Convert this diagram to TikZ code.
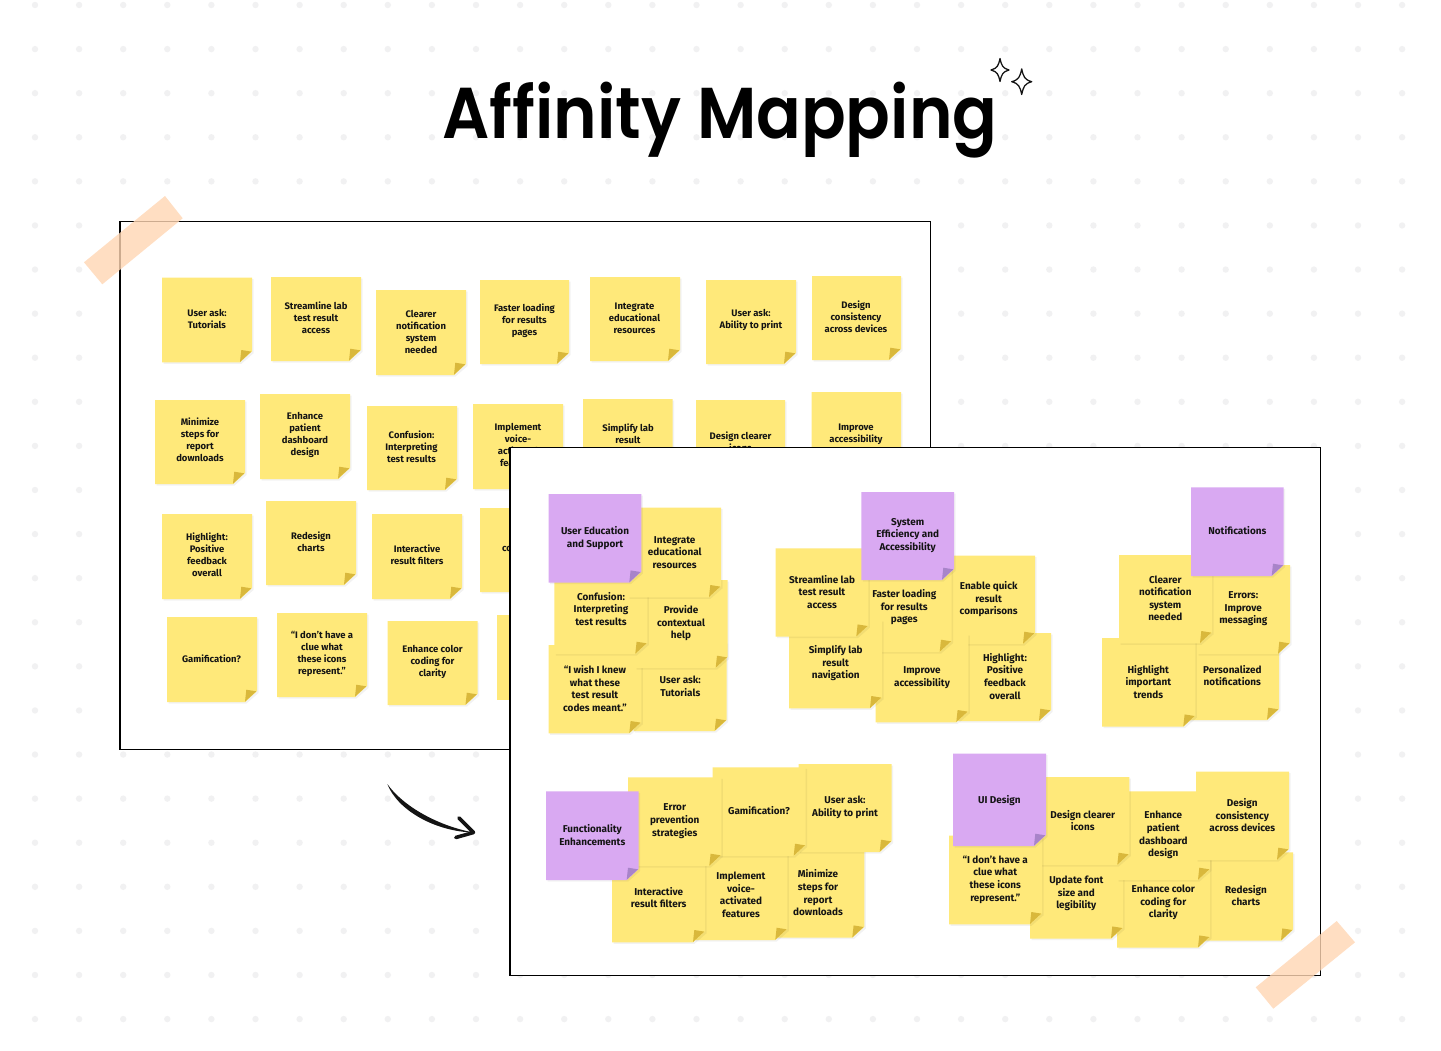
\documentclass[tikz,border=0pt]{standalone}
\usepackage{graphicx}
\usepackage{fontspec}
\setmainfont{Fira Sans}
\newfontfamily\titlefont{Poppins SemiBold}
\definecolor{noteY}{HTML}{FFE97A}
\definecolor{foldY}{HTML}{D9B83C}
\definecolor{noteP}{HTML}{D9A9F2}
\definecolor{foldP}{HTML}{A884C9}
\definecolor{tapeC}{HTML}{FFD6B3}
\definecolor{dotC}{HTML}{F1F1F2}
\definecolor{inkC}{HTML}{141414}
\tikzset{
  board/.style={draw=black,fill=white,line width=1pt,inner sep=0pt,outer sep=0pt,minimum width=607.875pt,minimum height=396pt},
  tape/.style={fill=tapeC,fill opacity=.8},
  dotmark/.style={fill=dotC},
  notetext/.style={font=\bfseries\fontsize{7.45}{9.45}\selectfont,text=inkC,align=center,inner sep=0pt,yshift=-.3pt},
  smalltext/.style={font=\bfseries\fontsize{7.1}{9}\selectfont,text=inkC,align=center,inner sep=0pt},
  sparkle/.style={draw=inkC,line width=.95pt,line join=round},
  softshadow/.style={fill=black,fill opacity=.05}
}
% #1 fill #2 fold #3 text style #4 id #5 x1 #6 y1 #7 x2 #8 y2 #9 = {tx,ty}; the words are in \notewords
\newcommand{\mknote}[9]{%
  \fill[softshadow] (#5+1.5,#6+1.5) -- (#7+1.5,#6+1.5) -- (#7+1.5,#8-9) -- (#7-10.5,#8+1.5) -- (#5+1.5,#8+1.5) -- cycle;
  \fill[#1] (#5,#6) -- (#7,#6) -- (#7,#8-11) -- (#7-12,#8) -- (#5,#8) -- cycle;
  \fill[#2] (#7-.7,#8-10.7) -- (#7-12,#8-.3) -- (#7-10.7,#8-12.3) -- cycle;
  \node[#3] (#4) at (#9) {\notewords};}
\newcommand{\lnote}[7]{\def\notewords{#7}\mknote{noteY}{foldY}{smalltext}{#1}{#2}{#3}{#4}{#5}{#6}}
\newcommand{\fnote}[7]{\def\notewords{#7}\mknote{noteY}{foldY}{notetext}{#1}{#2}{#3}{#4}{#5}{#6}}
\newcommand{\pnote}[7]{\def\notewords{#7}\mknote{noteP}{foldP}{notetext}{#1}{#2}{#3}{#4}{#5}{#6}}
\newcommand{\starshape}[3]{%
  \draw[sparkle] (#1,#2-#3*1.28) .. controls (#1+#3*.18,#2-#3*.45) and (#1+#3*.3,#2-#3*.2) .. (#1+#3,#2)
   .. controls (#1+#3*.3,#2+#3*.2) and (#1+#3*.18,#2+#3*.45) .. (#1,#2+#3*1.28)
   .. controls (#1-#3*.18,#2+#3*.45) and (#1-#3*.3,#2+#3*.2) .. (#1-#3,#2)
   .. controls (#1-#3*.3,#2-#3*.2) and (#1-#3*.18,#2-#3*.45) .. cycle;}
\begin{document}
\begin{tikzpicture}[x=0.75pt,y=-0.75pt]
\useasboundingbox (0,0) rectangle (1441,1050);
\fill[white] (0,0) rectangle (1441,1050);
% dotted background
\foreach \i in {0,...,31}{\foreach \j in {0,...,23}{
  \fill[dotmark] ({35+44.1*\i},{5+44.09*\j}) circle[radius=3.2];}}
% title
\node[font=\titlefont\fontsize{54}{60}\selectfont,text=black,inner sep=0pt,anchor=base] (title) at (720,138.5) {\scalebox{.917}[1]{Affinity Mapping}};
\starshape{1000}{70}{9}
\starshape{1021.7}{81.7}{10}

% ---------- first board
\node[board] (boardA) at (525.25,485.5) {};
\lnote{a1}{162}{277.5}{252}{362.3}{207,319}{User ask:\\Tutorials}
\lnote{a2}{271}{277}{361}{361}{316,318}{Streamline lab\\test result\\access}
\lnote{a3}{376}{290}{466}{375}{421,331.5}{Clearer\\notification\\system\\needed}
\lnote{a4}{480}{280}{569}{364}{524.5,321}{Faster loading\\for results\\pages}
\lnote{a5}{590}{277}{680}{361}{634.5,318}{Integrate\\educational\\resources}
\lnote{a6}{706}{280}{796}{364}{751,320}{User ask:\\Ability to print}
\lnote{a7}{812}{276}{901}{360}{856,317}{Design\\consistency\\across devices}
\lnote{b1}{155}{400}{245}{484}{200,440}{Minimize\\steps for\\report\\downloads}
\lnote{b2}{260}{394}{350}{479}{305,435}{Enhance\\patient\\dashboard\\design}
\lnote{b3}{367}{406}{457}{490}{411.5,447}{Confusion:\\Interpreting\\test results}
\lnote{b4}{473}{404}{563}{489}{518,445}{Implement\\voice-\\activated\\features}
\lnote{b5}{583}{399}{672.5}{484}{628,441}{Simplify lab\\result\\navigation}
\lnote{b6}{696}{400}{785}{485}{740.5,442}{Design clearer\\icons}
\lnote{b7}{811.5}{392}{901}{477}{856,434}{Improve\\accessibility}
\lnote{c1}{162}{514}{252}{599}{207,555}{Highlight:\\Positive\\feedback\\overall}
\lnote{c2}{266}{501}{356}{585}{311,542}{Redesign\\charts}
\lnote{c3}{372}{514}{462}{599}{417,555}{Interactive\\result filters}
\lnote{c4}{480}{508}{570}{592}{525,549}{Provide\\contextual\\help}
\lnote{d1}{167}{617}{257}{702}{211.5,659}{Gamification?}
\lnote{d2}{277}{613}{367}{697}{322,654}{“I don’t have a\\clue what\\these icons\\represent.”}
\lnote{d3}{387.5}{621}{477.5}{705}{432.5,662}{Enhance color\\coding for\\clarity}
\fill[noteY] (497,615) rectangle (512,700);

% ---------- second board
\node[board] (boardB) at (915.25,711.5) {};

% User Education and Support
\fnote{e6}{633.5}{642}{726.7}{731}{680.3,686}{User ask:\\Tutorials}
\fnote{e5}{548.7}{645}{641.3}{733.3}{595,688}{“I wish I knew\\what these\\test result\\codes meant.”}
\fnote{e4}{635}{580}{727.7}{668}{681,622.7}{Provide\\contextual\\help}
\fnote{e3}{554.3}{565}{647.3}{654}{601,608.3}{Confusion:\\Interpreting\\test results}
\fnote{e2}{628}{507.7}{721}{597.3}{674.7,552}{Integrate\\educational\\resources}
\pnote{e1}{548.7}{494}{641.3}{582.7}{595,537.7}{User Education\\and Support}

% System Efficiency and Accessibility
\fnote{s7}{958}{633}{1051}{721}{1005,675.8}{Highlight:\\Positive\\feedback\\overall}
\fnote{s6}{942}{555.7}{1035}{644}{988.7,598.7}{Enable quick\\result\\comparisons}
\fnote{s5}{875.7}{634}{968.3}{722.3}{922,677.5}{Improve\\accessibility}
\fnote{s4}{858.7}{563.5}{951.7}{652}{904.3,606.7}{Faster loading\\for results\\pages}
\fnote{s3}{789}{620}{882}{708.3}{835.7,663}{Simplify lab\\result\\navigation}
\fnote{s2}{775.7}{548.3}{868.3}{636.7}{822,591.3}{Streamline lab\\test result\\access}
\pnote{s1}{861.3}{492}{954}{580}{907.7,535}{System\\Efficiency and\\Accessibility}

% Notifications
\fnote{n5}{1186}{631.5}{1279}{720}{1232.3,675}{Personalized\\notifications}
\fnote{n4}{1102}{638}{1195.3}{726.7}{1148.3,681.3}{Highlight\\important\\trends}
\fnote{n3}{1197}{565}{1290}{654}{1243.3,608.3}{Errors:\\Improve\\messaging}
\fnote{n2}{1119}{555}{1212}{643.3}{1165.3,598}{Clearer\\notification\\system\\needed}
\pnote{n1}{1191}{487.3}{1283.7}{576}{1237.3,530.3}{Notifications}

% Functionality Enhancements
\fnote{f7}{771}{849}{864.3}{937.7}{818,892.5}{Minimize\\steps for\\report\\downloads}
\fnote{f6}{694}{851.5}{787.3}{940}{741,894.5}{Implement\\voice-\\activated\\features}
\fnote{f5}{612}{854}{705}{942.3}{658.7,897.3}{Interactive\\result filters}
\fnote{f4}{798.7}{764}{891.7}{852}{845,807}{User ask:\\Ability to print}
\fnote{f3}{712.7}{767.3}{805.7}{856}{759,810.3}{Gamification?}
\fnote{f2}{628}{777.3}{721.3}{866}{674.7,820.7}{Error\\prevention\\strategies}
\pnote{f1}{546}{791.3}{638.7}{880}{592.3,834.7}{Functionality\\Enhancements}

% UI Design
\fnote{u8}{1200}{852.3}{1293}{940.7}{1246,895.3}{Redesign\\charts}
\fnote{u7}{1117}{859}{1210}{947.7}{1163.3,902.3}{Enhance color\\coding for\\clarity}
\fnote{u6}{1030}{850}{1123}{938.7}{1076.3,893.3}{Update font\\size and\\legibility}
\fnote{u5}{1117}{791.3}{1210}{880}{1163.3,834.7}{Enhance\\patient\\dashboard\\design}
\fnote{u4}{1196}{771.7}{1289}{860}{1242.3,814.7}{Design\\consistency\\across devices}
\fnote{u3}{1036.3}{777}{1129.3}{865}{1082.7,820}{Design clearer\\icons}
\fnote{u2}{949}{835.7}{1042}{924.3}{995.3,879}{“I don’t have a\\clue what\\these icons\\represent.”}
\pnote{u1}{953}{753.5}{1046}{846}{999.3,800.3}{UI Design}

% tapes
\fill[tape] (165,196) -- (182.7,218.3) -- (102.3,284.3) -- (84,262.3) -- cycle;
\fill[tape] (1336.7,921) -- (1355,942.3) -- (1273.3,1008.7) -- (1255.7,987.3) -- cycle;

% arrow
\coordinate (arrowstart) at (387.3,784);
\coordinate (arrowtip) at (473.5,832.5);
\fill[inkC] (arrowstart) .. controls (403,806) and (437,825.5) .. (arrowtip)
  .. controls (436,831.5) and (398,811) .. (arrowstart) -- cycle;
\draw[inkC,line width=2.7pt,line cap=round,line join=round]
  (459,818) -- (arrowtip) -- (455.8,837.5);
\end{tikzpicture}
\end{document}
